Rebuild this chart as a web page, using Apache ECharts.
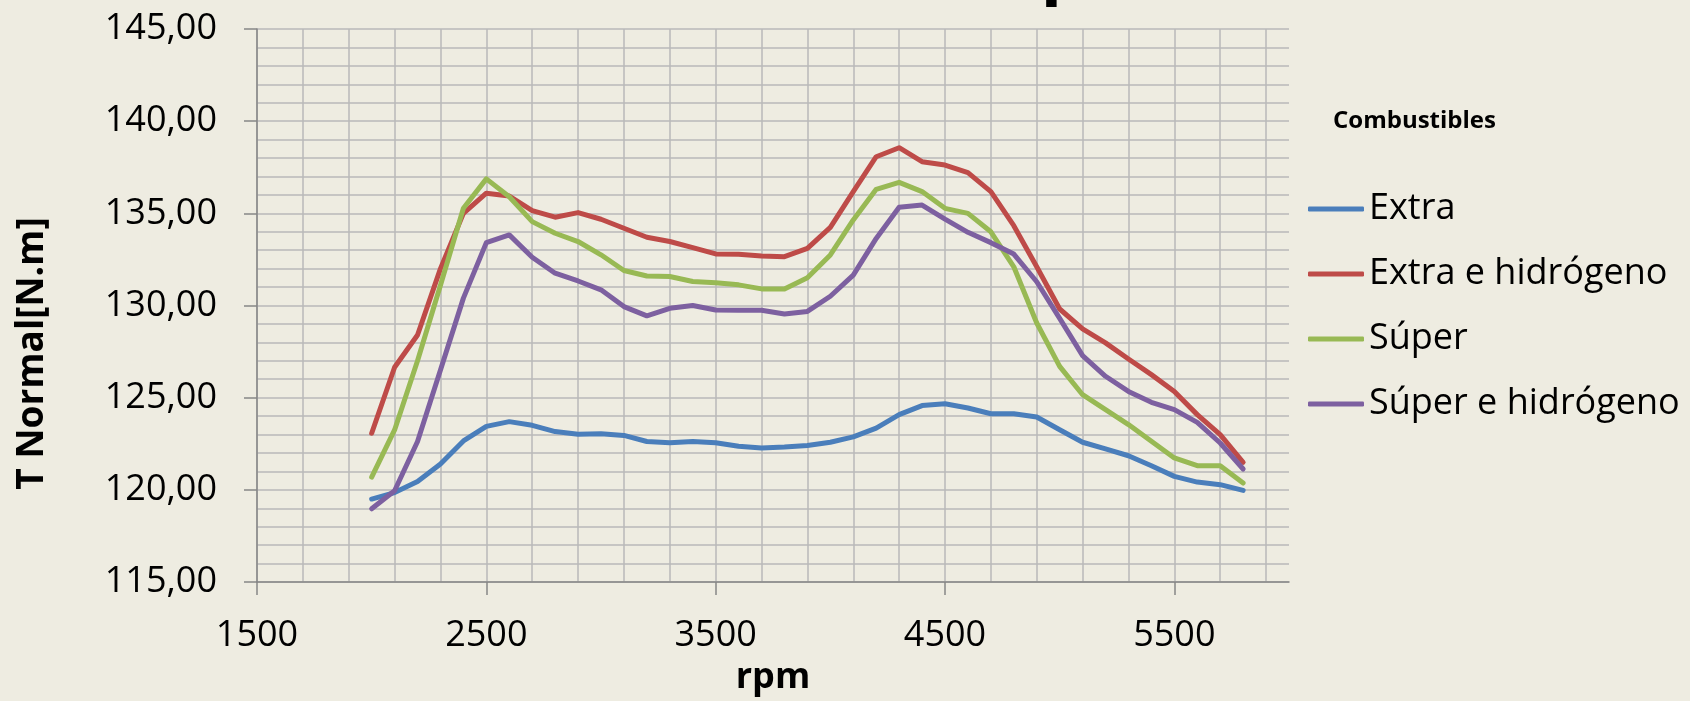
<!DOCTYPE html>
<html>
<head>
<meta charset="utf-8">
<script src="https://cdn.jsdelivr.net/npm/echarts@6/dist/echarts.min.js"></script>
<style>
  html, body { margin: 0; padding: 0; background: #EEECE1; }
  #chart { width: 1690px; height: 701px; }
</style>
</head>
<body>
<div id="chart"></div>
<script>
// rpm measurement points
const rpm = [2000, 2100, 2200, 2300, 2400, 2500, 2600, 2700, 2800, 2900,
  3000, 3100, 3200, 3300, 3400, 3500, 3600, 3700, 3800, 3900,
  4000, 4100, 4200, 4300, 4400, 4500, 4600, 4700, 4800, 4900,
  5000, 5100, 5200, 5300, 5400, 5500, 5600, 5700, 5800]

const extra = [119.50, 119.85, 120.45, 121.40, 122.65, 123.44, 123.70, 123.50, 123.16, 123.02,
  123.04, 122.95, 122.62, 122.55, 122.62, 122.55, 122.36, 122.27, 122.32, 122.41,
  122.58, 122.87, 123.35, 124.08, 124.57, 124.67, 124.44, 124.13, 124.13, 123.95,
  123.26, 122.58, 122.22, 121.85, 121.31, 120.73, 120.42, 120.28, 119.97]

const extraH2 = [123.07, 126.65, 128.40, 132.00, 135.00, 136.09, 135.94, 135.15, 134.79, 135.04,
  134.68, 134.19, 133.70, 133.47, 133.14, 132.80, 132.78, 132.69, 132.65, 133.10,
  134.24, 136.18, 138.07, 138.56, 137.80, 137.62, 137.21, 136.18, 134.33, 132.10,
  129.81, 128.73, 127.97, 127.10, 126.25, 125.34, 124.08, 122.99, 121.49]

const super_ = [120.69, 123.25, 127.00, 131.10, 135.28, 136.87, 135.90, 134.55, 133.92, 133.47,
  132.75, 131.90, 131.60, 131.57, 131.30, 131.24, 131.12, 130.90, 130.90, 131.50,
  132.74, 134.64, 136.30, 136.68, 136.18, 135.27, 135.00, 134.00, 132.10, 129.05,
  126.70, 125.16, 124.35, 123.54, 122.63, 121.73, 121.31, 121.31, 120.37]

const superH2 = [118.97, 119.95, 122.62, 126.50, 130.40, 133.41, 133.83, 132.62, 131.75, 131.33,
  130.85, 129.94, 129.44, 129.85, 130.00, 129.76, 129.74, 129.74, 129.54, 129.68,
  130.50, 131.65, 133.64, 135.33, 135.45, 134.69, 133.97, 133.41, 132.79, 131.29,
  129.30, 127.28, 126.16, 125.34, 124.75, 124.35, 123.66, 122.54, 121.13]

const seriesNames = ['Extra', 'Extra e hidrógeno', 'Súper', 'Súper e hidrógeno']
const seriesColors = ['#4A7EBB', '#BE4B48', '#98B954', '#7D60A0']
const xTicks = [1500, 2500, 3500, 4500, 5500]
const yTicks = [115, 120, 125, 130, 135, 140, 145]

const font = "'Open Sans', 'Noto Sans', sans-serif"
const chart = echarts.init(document.getElementById('chart'))

const toPairs = vals => rpm.map((r, i) => [r, vals[i]])
const gridLine = { show: true, showMaxLine: false, lineStyle: { color: '#B8B8B8', width: 1.5 } }
const axisGray = { color: '#868686', width: 1.5 }

chart.setOption({
  backgroundColor: '#EEECE1',
  animation: false,
  title: [
    {
      text: 'Curvas de Torque',
      left: 'center',
      top: -70,
      textStyle: { fontFamily: font, fontSize: 70, fontWeight: 'bold', color: '#000' },
    },
    {
      text: 'Combustibles',
      left: 1333,
      top: 106,
      padding: 0,
      textStyle: { fontFamily: font, fontSize: 24, fontWeight: 'bold', color: '#000', lineHeight: 30 },
    },
  ],
  legend: {
    orient: 'vertical',
    left: 1308,
    top: 191,
    padding: 0,
    itemWidth: 56,
    itemHeight: 5,
    itemGap: 29,
    icon: 'roundRect',
    data: seriesNames,
    textStyle: { fontFamily: font, fontSize: 36, color: '#000', lineHeight: 36 },
  },
  grid: { left: 257, top: 29, right: 401, bottom: 119, outerBoundsMode: 'none' },
  xAxis: [
    {
      type: 'value',
      min: 1500,
      max: 6000,
      interval: 1000,
      name: 'rpm',
      nameLocation: 'middle',
      nameGap: 78,
      nameTextStyle: { fontFamily: font, fontSize: 36, fontWeight: 'bold', color: '#000' },
      axisLine: { show: true, lineStyle: axisGray },
      axisTick: { show: true, length: 13, customValues: xTicks, lineStyle: axisGray },
      axisLabel: {
        customValues: xTicks,
        margin: 36,
        fontFamily: font, fontSize: 36, color: '#000', lineHeight: 36,
        formatter: v => String(v),
      },
      splitLine: { show: false },
      z: 3,
    },
    {
      // 200 rpm grid
      type: 'value',
      min: 1500,
      max: 6000,
      interval: 200,
      axisLine: { show: false },
      axisTick: { show: false },
      axisLabel: { show: false },
      splitLine: gridLine,
    },
  ],
  yAxis: [
    {
      type: 'value',
      min: 115,
      max: 145,
      interval: 5,
      name: 'T Normal[N.m]',
      nameLocation: 'middle',
      nameRotate: 90,
      nameGap: 206,
      nameTextStyle: {
        fontFamily: font, fontSize: 37, fontWeight: 'bold', color: '#000',
        padding: [0, 96, 0, 0],
      },
      axisLine: { show: true, lineStyle: axisGray },
      axisTick: { show: true, length: 13, customValues: yTicks, lineStyle: axisGray },
      axisLabel: {
        customValues: yTicks,
        margin: 40,
        fontFamily: font, fontSize: 36, color: '#000',
        formatter: v => v.toFixed(2).replace('.', ','),
      },
      splitLine: { show: false },
      z: 3,
    },
    {
      // 1 N.m grid
      type: 'value',
      min: 115,
      max: 145,
      interval: 1,
      axisLine: { show: false },
      axisTick: { show: false },
      axisLabel: { show: false },
      splitLine: { show: true, lineStyle: { color: '#B8B8B8', width: 1.5 } },
    },
  ],
  series: [extra, extraH2, super_, superH2].map((vals, i) => ({
    name: seriesNames[i],
    type: 'line',
    data: toPairs(vals),
    symbol: 'none',
    color: seriesColors[i],
    lineStyle: { color: seriesColors[i], width: 5, cap: 'round', join: 'round' },
  })),
})
</script>
</body>
</html>
